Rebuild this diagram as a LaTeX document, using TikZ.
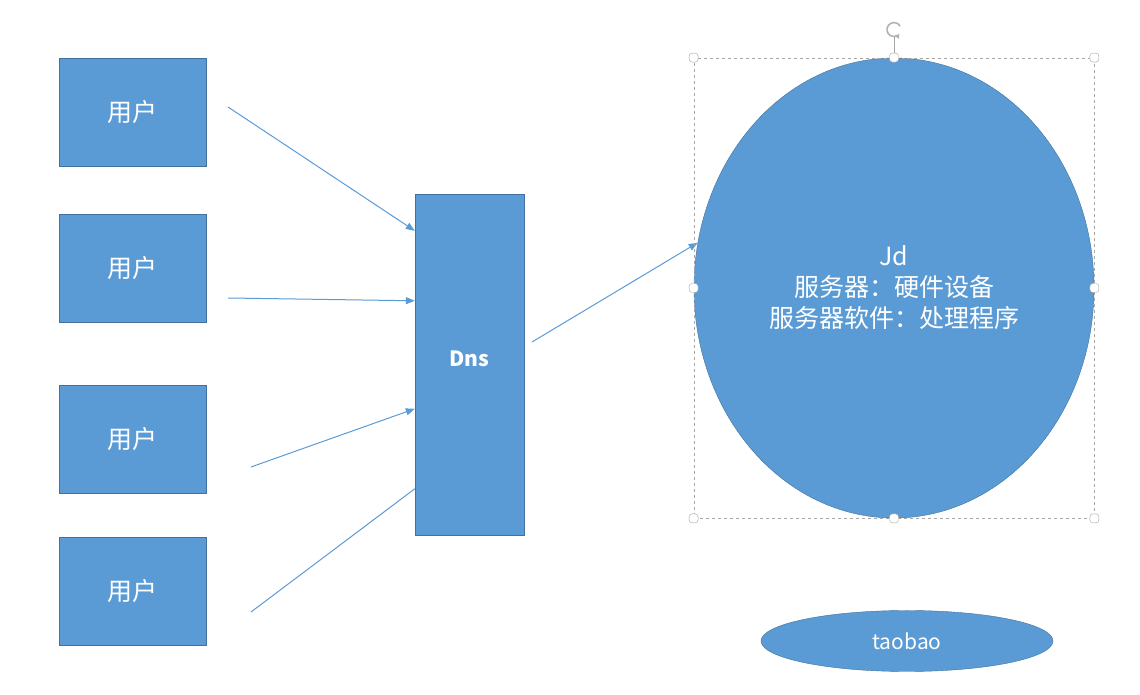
\documentclass[tikz,border=0pt]{standalone}
\usepackage{xcolor}
\usepackage{fontspec}
\setmainfont{Noto Sans CJK SC}
\usetikzlibrary{shapes.geometric, arrows.meta, positioning, fit, calc}

\definecolor{officeblue}{HTML}{5B9BD5}
\definecolor{officeedge}{HTML}{41719C}

\begin{document}
\begin{tikzpicture}[x=1pt, y=1pt, node distance=48pt,
                % Define styles
                user/.style={rectangle, draw=officeedge, fill=officeblue, text=white, minimum width=147pt, minimum height=108pt, inner sep=0pt, font=\fontsize{25}{29}\selectfont},
                server/.style={rectangle, draw=officeedge, fill=officeblue, text=white, minimum width=109pt, minimum height=341pt, inner sep=0pt, font=\fontsize{21}{25}\selectfont\bfseries},
                site/.style={ellipse, draw=officeedge, fill=officeblue, text=white, inner sep=0pt, align=center},
                line/.style={draw=officeblue, line width=1pt, -{Triangle[length=9pt, width=7pt]}},
                plain/.style={draw=officeblue, line width=1pt},
                handle/.style={rectangle, rounded corners=3pt, draw=gray!70, fill=white, minimum size=9pt, inner sep=0pt}
            ]
            \useasboundingbox (0,0) rectangle (1140,695);

            % --- Nodes ---

            % Users
            \node [user] (user1) at (132.5,583) {用户};
            \node [user, below=48pt of user1] (user2) {用户};
            \node [user, below=62pt of user2] (user3) {用户};
            \node [user, below=44pt of user3] (user4) {用户};

            % Dns
            \node [server] (dns) at (469.5,330.5) {\raisebox{12pt}{Dns}};

            % Jd
            \node [site, minimum width=400pt, minimum height=460pt, font=\fontsize{25}{31}\selectfont] (jd) at (894,407)
                {Jd\\服务器：硬件设备\\服务器软件：处理程序};

            % taobao
            \node [site, minimum width=292pt, minimum height=61pt, font=\fontsize{21}{25}\selectfont] (taobao) at (907,54) {taobao};

            % --- Edges ---
            \coordinate (src1) at (228,588);
            \coordinate (src2) at (228,397);
            \coordinate (src3) at (251,228);
            \coordinate (src4) at (251,83);
            \coordinate (src5) at (532,353);

            \path [line] (src1) -- ($(dns.north west)+(0,-37)$);
            \path [line] (src2) -- ($(dns.north west)+(0,-107)$);
            \path [line] (src3) -- ($(dns.north west)+(0,-215)$);
            \path [plain] (src4) -- ($(dns.north west)+(0,-295)$);
            \path [line] (src5) -- (jd.167);

            % --- Selection frame ---
            \node [draw=gray!70, dashed, inner sep=0pt, fit=(jd)] (frame) {};
            \draw [gray!70, line width=1pt] (frame.north) -- ++(0,21) coordinate (rotbase);
            \coordinate (rot) at ($(rotbase)+(0,7)$);
            \draw [gray!60, line width=1.6pt, -{Triangle[length=4pt, width=5pt]}] ($(rot)+(30:7)$) arc[start angle=30, end angle=320, radius=7];
            \foreach \pos in {north west, north, north east, east, south east, south, south west, west}
                \node [handle] at (frame.\pos) {};

        \end{tikzpicture}
\end{document}
